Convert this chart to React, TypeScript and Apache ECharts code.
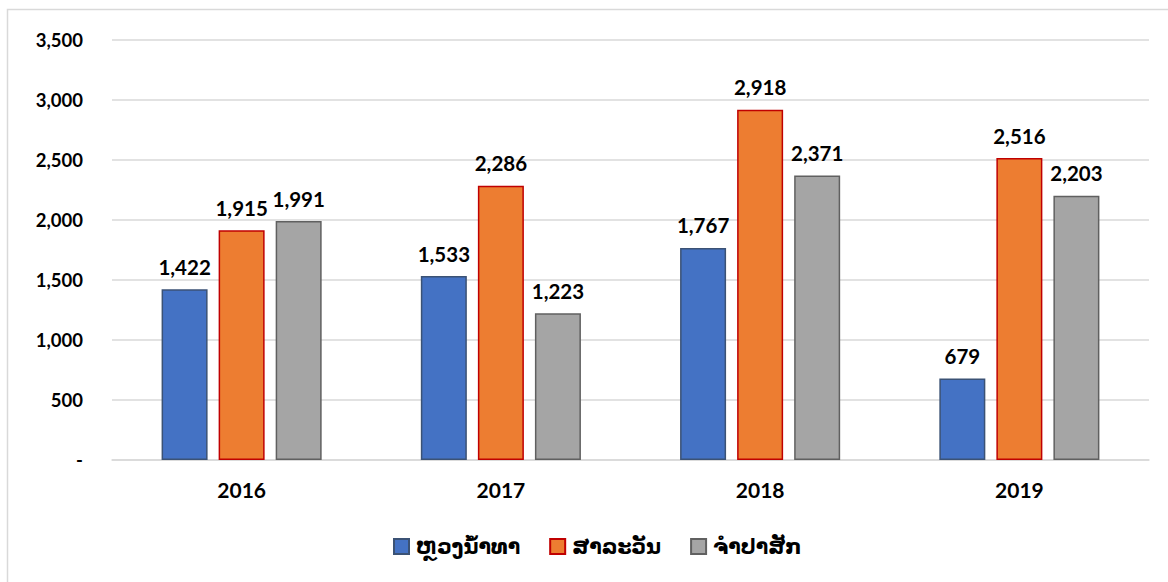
import React, { useEffect, useRef } from "react";
import * as echarts from "echarts";

const categories = ["2016", "2017", "2018", "2019"];
const seriesNames = ["ຫຼວງນ້ຳທາ", "ສາລະວັນ", "ຈຳປາສັກ"];
const luangNamtha = [1422, 1533, 1767, 679];
const salavan = [1915, 2286, 2918, 2516];
const champasak = [1991, 1223, 2371, 2203];
const yTicks = [0, 500, 1000, 1500, 2000, 2500, 3000, 3500];

const colors = ["#4472C4", "#ED7D31", "#A5A5A5"];
const borders = ["#3B5275", "#C00000", "#606060"];

export default function App() {
  const ref = useRef<HTMLDivElement>(null);
  useEffect(() => {
    if (!ref.current) return;
    const chart = echarts.init(ref.current, null, { renderer: "svg" });
    const fmt = (v: number) => (v === 0 ? "-" : v.toLocaleString("en-US"));
    const data = [luangNamtha, salavan, champasak];
    chart.setOption({
      animation: false,
      backgroundColor: "#fff",
      graphic: [
        {
          type: "rect",
          shape: { x: 7.5, y: 9.5, width: 1200, height: 620 },
          style: { fill: "none", stroke: "#d9d9d9", lineWidth: 1.5 },
          silent: true,
        },
      ],
      grid: { left: 112, right: 19, top: 40, bottom: 122 },
      legend: {
        top: 531,
        left: 388,
        icon: "rect",
        itemWidth: 15,
        itemHeight: 15,
        itemGap: 29,
        textStyle: {
          fontSize: 20.5,
          fontWeight: "bold",
          color: "#000",
          fontFamily: "DejaVu Sans, Noto Sans, sans-serif",
          padding: [0, 0, 0, 2],
        },
        data: seriesNames,
      },
      xAxis: {
        type: "category",
        data: categories,
        axisLine: { lineStyle: { color: "#d9d9d9", width: 1.5 } },
        axisTick: { show: false },
        axisLabel: {
          fontSize: 21,
          fontWeight: "bold",
          color: "#000",
          fontFamily: "Lato, sans-serif",
          margin: 19,
        },
      },
      yAxis: {
        type: "value",
        min: 0,
        max: 3500,
        interval: 500,
        axisLine: { show: false },
        axisTick: { show: false },
        splitLine: { lineStyle: { color: "#d9d9d9", width: 1.5 } },
        axisLabel: {
          fontSize: 18.5,
          fontWeight: "bold",
          color: "#000",
          fontFamily: "Lato, sans-serif",
          margin: 29,
          formatter: (v: number) => (yTicks.includes(v) ? fmt(v) : ""),
        },
      },
      series: seriesNames.map((name, i) => ({
        name,
        type: "bar",
        data: data[i],
        barWidth: 46,
        barGap: "24%",
        itemStyle: { color: colors[i], borderColor: borders[i], borderWidth: 1.5 },
        label: {
          show: true,
          position: "top",
          distance: 12,
          fontSize: 20.5,
          fontWeight: "bold",
          color: "#000",
          fontFamily: "Lato, sans-serif",
          formatter: (p: any) => fmt(p.value),
        },
      })),
    });
    return () => chart.dispose();
  }, []);
  return (
    <div
      ref={ref}
      style={{ position: "absolute", left: 0, top: 0, width: 1168, height: 582 }}
    />
  );
}
